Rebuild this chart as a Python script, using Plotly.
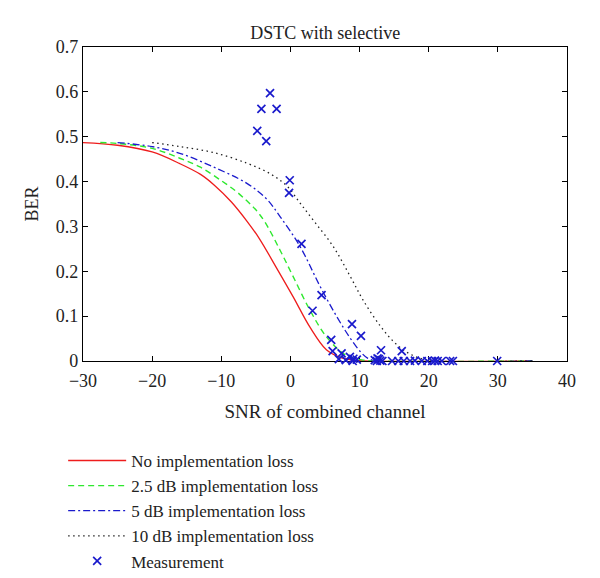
import plotly.graph_objects as go

# ---- data ----
red_x = [-30, -25, -20, -16, -13, -11, -8.5, -6.3, -4.5, -2.1, 0.4, 2.8, 5.2, 7.2, 9, 10.5, 35]
red_y = [0.487, 0.481, 0.466, 0.440, 0.416, 0.392, 0.354, 0.312, 0.273, 0.210, 0.143, 0.076, 0.025, 0.008, 0.002, 0.0, 0.0]

green_x = [-27.5, -25, -20, -16, -13, -10, -8, -6.3, -5, -3.7, -1.5, 0.4, 2.8, 5.2, 7.6, 9, 10.5, 12, 35]
green_y = [0.487, 0.485, 0.474, 0.452, 0.432, 0.402, 0.380, 0.357, 0.337, 0.310, 0.247, 0.188, 0.114, 0.054, 0.017, 0.007, 0.002, 0.0, 0.0]

blue_x = [-25, -20, -16, -11.2, -6.3, -3.5, -1.5, 1.4, 4.3, 6.7, 8.6, 10.1, 11.2, 12.5, 35]
blue_y = [0.487, 0.478, 0.463, 0.433, 0.396, 0.362, 0.322, 0.255, 0.166, 0.099, 0.052, 0.021, 0.006, 0.0, 0.0]

black_x = [-20, -16, -11.2, -6.3, -3, -0.5, 1.4, 3.5, 6.2, 8.6, 10.5, 13, 15, 17, 19, 21, 35]
black_y = [0.487, 0.478, 0.465, 0.441, 0.418, 0.390, 0.352, 0.310, 0.255, 0.190, 0.136, 0.078, 0.042, 0.018, 0.005, 0.0, 0.0]

meas_x = [-2.95, -4.2, -2.0, -4.8, -3.5, -0.1, -0.2, 1.6, 4.5, 3.2, 8.9, 10.2, 5.9, 6.1, 7.4,
          8.6, 9.1, 9.6, 7.0, 8.0, 9.0, 13.1, 16.1, 12.2, 12.5, 12.8, 13.0, 13.3, 12.6,
          14.7, 15.6, 16.4, 17.3, 18.0, 19.0, 19.8, 20.5, 20.9, 21.3, 21.9, 23.1, 23.5, 29.9]
meas_y = [0.597, 0.562, 0.562, 0.513, 0.490, 0.403, 0.375, 0.261, 0.147, 0.112, 0.082, 0.056, 0.047, 0.022, 0.017,
          0.009, 0.005, 0.003, 0.004, 0.002, 0.0, 0.024, 0.022, 0.002, 0.0, 0.004, 0.001, 0.0, 0.006,
          0.0, 0.0, 0.0, 0.0, 0.001, 0.0, 0.0, 0.0, 0.001, 0.0, 0.0, 0.0, 0.0, 0.0]

names = ["No implementation loss", "2.5 dB implementation loss", "5 dB implementation loss",
         "10 dB implementation loss", "Measurement"]
x_ticks = [-30, -20, -10, 0, 10, 20, 30, 40]
y_ticks = [0, 0.1, 0.2, 0.3, 0.4, 0.5, 0.6, 0.7]
y_tick_text = ["0", "0.1", "0.2", "0.3", "0.4", "0.5", "0.6", "0.7"]

FONT = "Liberation Serif"
TXT = "#222222"
SMOOTH = 1.0

fig = go.Figure()
fig.add_trace(go.Scatter(x=red_x, y=red_y, mode="lines", name=names[0],
                         line=dict(color="#ee1c1c", width=1.3, shape="spline", smoothing=SMOOTH)))
fig.add_trace(go.Scatter(x=green_x, y=green_y, mode="lines", name=names[1],
                         line=dict(color="#2ee82e", width=1.4, dash="6px,4px", shape="spline", smoothing=SMOOTH)))
fig.add_trace(go.Scatter(x=blue_x, y=blue_y, mode="lines", name=names[2],
                         line=dict(color="#1a1acc", width=1.3, dash="7px,3px,2px,3px", shape="spline", smoothing=SMOOTH)))
fig.add_trace(go.Scatter(x=black_x, y=black_y, mode="lines", name=names[3],
                         line=dict(color="#222222", width=1.3, dash="1.5px,3.5px", shape="spline", smoothing=SMOOTH)))
fig.add_trace(go.Scatter(x=meas_x, y=meas_y, mode="markers", name=names[4], cliponaxis=False,
                         marker=dict(symbol="x-thin-open", size=8, color="#1a1acc",
                                     line=dict(color="#1a1acc", width=1.7))))

axis_common = dict(showgrid=False, zeroline=False, showline=True, linecolor="black", linewidth=1.2,
                   mirror="ticks", ticks="inside", ticklen=5, tickcolor="black", tickwidth=1,
                   layer="below traces", tickfont=dict(family=FONT, size=18, color=TXT))

fig.update_xaxes(range=[-30, 40], tickvals=x_ticks,
                 ticktext=[str(v).replace("-", "\u2212") for v in x_ticks],
                 ticklabelstandoff=3,
                 title=dict(text="SNR of combined channel", font=dict(family=FONT, size=19, color=TXT), standoff=14),
                 **axis_common)
fig.update_yaxes(range=[0, 0.7], tickvals=y_ticks, ticktext=y_tick_text,
                 title=dict(text="BER", font=dict(family=FONT, size=18, color=TXT), standoff=12),
                 **axis_common)

fig.update_layout(
    width=600, height=578,
    margin=dict(l=83, r=33, t=47, b=217, autoexpand=False),
    plot_bgcolor="white", paper_bgcolor="white",
    title=dict(text="DSTC with selective", x=0.542, xanchor="center", y=0.943, yanchor="middle",
               font=dict(family=FONT, size=18, color=TXT)),
    font=dict(family=FONT, size=17, color=TXT),
    legend=dict(x=-0.041, xanchor="left", y=-0.261, yanchor="top", itemwidth=58,
                font=dict(family=FONT, size=17, color=TXT), tracegroupgap=0,
                bgcolor="rgba(0,0,0,0)"),
    showlegend=True,
)

fig.write_html("out.html", config={"displayModeBar": False},
               post_script="document.body.style.margin='0';")
